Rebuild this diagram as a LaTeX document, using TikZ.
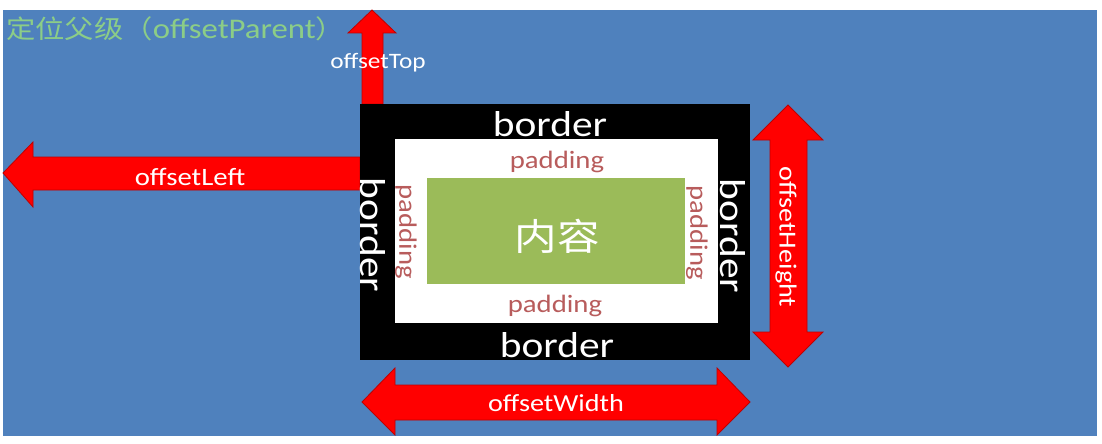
\documentclass[tikz,border=0pt]{standalone}
\usepackage{fontspec}
\setmainfont{Carlito}[FakeStretch=1.15]
\newfontfamily\cjk{Noto Sans CJK SC}[FakeStretch=1.15]
\usetikzlibrary{positioning}
\definecolor{slideblue}{HTML}{4F81BD}
\definecolor{contentgreen}{HTML}{9BBB59}
\definecolor{padred}{HTML}{B85C5C}
\definecolor{titlegreen}{RGB}{140,205,135}

\begin{document}
\begin{tikzpicture}[x=1pt,y=-1pt,
    redarrow/.style={fill=red,draw=red!75!black,line width=0.8pt},
    bordertext/.style={text=white,font=\fontsize{36}{36}\selectfont,inner sep=0pt},
    padtext/.style={text=padred,font=\fontsize{25}{25}\selectfont,inner sep=0pt},
    arrowtext/.style={text=white,font=\fontsize{24.5}{24.5}\selectfont,inner sep=0pt}
]
\useasboundingbox (0,0) rectangle (1102,444);
\fill[slideblue] (3,10) rectangle (1097,436);
\node[anchor=base west,inner sep=0pt,text=titlegreen] (title) at (6,39)
    {{\cjk\fontsize{25.5}{25.5}\selectfont 定位父级（}{\fontsize{28.5}{28.5}\selectfont offsetParent}{\cjk\fontsize{25.5}{25.5}\selectfont ）}};
% arrows
\fill[redarrow] (362,104) -- (362,33) -- (348,33) -- (372,10) -- (396,33) -- (383,33) -- (383,104) -- cycle;
\fill[redarrow] (360,157) -- (33,157) -- (33,142) -- (3,173) -- (33,207) -- (33,190) -- (360,190) -- cycle;
\fill[redarrow] (788,105) -- (823,140) -- (807,140) -- (807,332) -- (823,332) -- (788,367)
    -- (753,332) -- (770,332) -- (770,140) -- (753,140) -- cycle;
\fill[redarrow] (362,402) -- (395,368) -- (395,385) -- (717,385) -- (717,368) -- (750,402)
    -- (717,435) -- (717,420) -- (395,420) -- (395,435) -- cycle;
% box model
\node[fill=black,minimum width=390pt,minimum height=256pt,inner sep=0pt] (outer) at (555,232) {};
\node[fill=white,minimum width=323pt,minimum height=184pt,inner sep=0pt] (pad) at (556.5,231) {};
\node[fill=contentgreen,minimum width=258pt,minimum height=106pt,inner sep=0pt] (content) at (556,231) {};
\node[text=white,inner sep=0pt,font=\cjk\fontsize{37}{37}\selectfont] (contentlbl) at (557,236) {内容};
\node[bordertext,anchor=base] (btop) at (550,136) {border};
\node[bordertext,anchor=base] (bbot) at (557,357) {border};
\node[bordertext,rotate=-90] (bleft) at (373,235) {border};
\node[bordertext,rotate=-90] (bright) at (733,236) {border};
\node[padtext] (ptop) at (557,162) {padding};
\node[padtext] (pbot) at (555,306) {padding};
\node[padtext,rotate=-90] (pleft) at (406,232) {padding};
\node[padtext,rotate=-90] (pright) at (697,233) {padding};
% labels
\node[arrowtext,font=\fontsize{22}{22}\selectfont] (toplbl) at (378,63) {offsetTop};
\node[arrowtext,font=\fontsize{25}{25}\selectfont] (leftlbl) at (190,177) {offsetLeft};
\node[arrowtext,rotate=-90] (heightlbl) at (786,237) {offsetHeight};
\node[arrowtext] (widthlbl) at (556,403) {offsetWidth};
\end{tikzpicture}
\end{document}
